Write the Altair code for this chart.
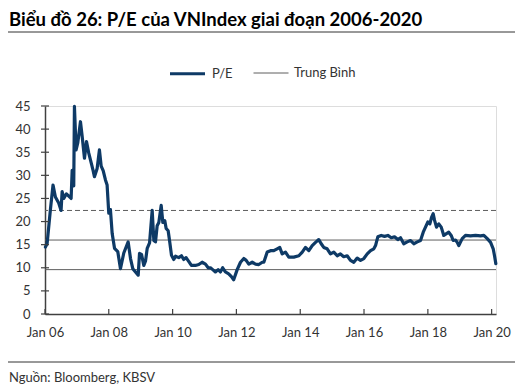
import altair as alt
import pandas as pd

dates = [
    "2006-01-06", "2006-01-25", "2006-03-03", "2006-04-03", "2006-04-30", "2006-06-07", "2006-07-04",
    "2006-07-16", "2006-08-04", "2006-09-03", "2006-09-30", "2006-10-27", "2006-11-08", "2006-11-26",
    "2006-12-04", "2006-12-23", "2007-01-11", "2007-02-11", "2007-03-02", "2007-03-29", "2007-04-21",
    "2007-05-17", "2007-06-14", "2007-07-06", "2007-07-21", "2007-08-21", "2007-09-16", "2007-10-06",
    "2007-10-29", "2007-11-24", "2007-12-13", "2008-01-01", "2008-01-20", "2008-02-09", "2008-03-07",
    "2008-04-13", "2008-05-14", "2008-06-21", "2008-08-10", "2008-09-06", "2008-10-02", "2008-11-02",
    "2008-12-03", "2008-12-18", "2009-01-10", "2009-02-05", "2009-02-25", "2009-03-16", "2009-04-12",
    "2009-05-12", "2009-05-31", "2009-06-19", "2009-07-08", "2009-07-27", "2009-08-23", "2009-09-11",
    "2009-10-03", "2009-10-19", "2009-11-11", "2009-11-26", "2009-12-19", "2010-01-14", "2010-02-03",
    "2010-03-12", "2010-04-12", "2010-05-08", "2010-06-04", "2010-07-04", "2010-08-04", "2010-09-19",
    "2010-10-27", "2010-12-05", "2011-01-12", "2011-02-12", "2011-03-10", "2011-04-05", "2011-05-06",
    "2011-06-06", "2011-07-02", "2011-07-28", "2011-08-28", "2011-10-05", "2011-11-05", "2011-12-01",
    "2012-01-10", "2012-02-17", "2012-03-26", "2012-04-22", "2012-05-22", "2012-06-30", "2012-08-07",
    "2012-09-14", "2012-10-23", "2012-11-10", "2012-12-19", "2013-01-26", "2013-03-04", "2013-04-12",
    "2013-05-12", "2013-06-08", "2013-07-16", "2013-08-23", "2013-10-19", "2013-12-16", "2014-01-24",
    "2014-03-02", "2014-04-09", "2014-05-18", "2014-06-25", "2014-08-01", "2014-08-29", "2014-09-27",
    "2014-11-05", "2014-12-13", "2015-01-20", "2015-02-28", "2015-04-06", "2015-05-14", "2015-06-22",
    "2015-07-30", "2015-09-06", "2015-10-15", "2015-11-22", "2015-12-30", "2016-02-07", "2016-03-16",
    "2016-04-22", "2016-05-12", "2016-06-07", "2016-07-16", "2016-08-23", "2016-09-30", "2016-11-08",
    "2016-12-15", "2017-01-22", "2017-02-22", "2017-03-31", "2017-05-10", "2017-06-17", "2017-07-24",
    "2017-09-02", "2017-10-09", "2017-11-09", "2017-12-05", "2018-01-01", "2018-01-24", "2018-02-12",
    "2018-03-03", "2018-03-18", "2018-04-10", "2018-05-06", "2018-06-03", "2018-07-02", "2018-08-02",
    "2018-08-28", "2018-09-25", "2018-10-18", "2018-11-13", "2018-12-03", "2018-12-21", "2019-01-29",
    "2019-03-08", "2019-05-04", "2019-07-01", "2019-08-27", "2019-10-04", "2019-11-12", "2019-12-20",
    "2020-01-19", "2020-02-03", "2020-02-18",
]
pe_values = [
    14.5, 15.2, 22.4, 27.9, 25.3, 24.0, 22.4,
    26.5, 25.0, 26.0, 25.5, 25.0, 31.1, 27.7,
    44.9, 35.5, 37.0, 41.6, 38.5, 33.7, 37.3,
    34.8, 32.7, 31.0, 29.7, 31.5, 35.5, 32.0,
    31.0, 29.0, 27.9, 21.8, 22.6, 17.4, 14.2,
    13.5, 9.8, 13.2, 15.6, 12.0, 9.8, 9.1,
    8.4, 13.1, 12.9, 10.5, 11.5, 14.2, 15.4,
    22.4, 15.9, 15.6, 19.1, 19.8, 23.5, 19.8,
    20.2, 18.5, 18.0, 16.0, 12.7, 11.8, 12.5,
    12.2, 12.6, 11.8, 12.2, 11.4, 10.5, 10.5,
    10.7, 11.2, 10.8, 10.0, 10.0, 9.6, 9.1,
    9.6, 9.1, 10.0, 9.1, 8.7, 8.1, 7.4,
    9.6, 11.2, 12.0, 11.6, 10.8, 11.2, 10.8,
    10.7, 11.2, 11.2, 13.4, 13.7, 13.7, 14.1,
    14.4, 13.0, 13.4, 12.3, 12.3, 12.6, 13.4,
    14.4, 13.7, 14.8, 15.5, 16.1, 15.2, 14.4,
    14.1, 13.0, 13.4, 12.6, 13.0, 12.4, 12.6,
    11.6, 11.2, 12.1, 11.6, 12.0, 13.0, 13.7,
    14.1, 14.8, 16.7, 17.0, 16.8, 17.0, 16.5,
    16.7, 16.1, 16.5, 15.2, 15.6, 15.9, 15.2,
    15.6, 15.9, 17.7, 18.8, 19.9, 19.5, 20.9,
    21.7, 20.3, 18.8, 19.5, 18.8, 17.0, 17.4,
    17.7, 17.0, 15.9, 16.0, 15.5, 14.8, 16.3,
    17.0, 16.9, 17.0, 16.9, 17.0, 16.3, 15.5,
    14.1, 12.6, 10.9,
]

band_levels = [22.4, 16.0, 9.6]
band_kinds = ["dash", "solid", "solid"]

series_names = ["P/E", "Trung Bình"]
series_colors = ["#0e3a66", "#5e5e5e"]
series_widths = [3.2, 1]

y_ticks = [0, 5, 10, 15, 20, 25, 30, 35, 40, 45]
x_tick_dates = ["2006-01-01", "2008-01-01", "2010-01-01", "2012-01-01",
                "2014-01-01", "2016-01-01", "2018-01-01", "2020-01-01"]
x_domain = ["2006-01-01", "2020-02-20"]

title_text = "Biểu đồ 26: P/E của VNIndex giai đoạn 2006-2020"
source_text = "Nguồn: Bloomberg, KBSV"

FONT = "Lato"
W, H = 451, 208

pe_df = pd.DataFrame({"date": dates, "pe": pe_values, "series": "P/E"})
band_df = pd.DataFrame({"level": band_levels, "kind": band_kinds, "series": "Trung Bình"})
ytick_df = pd.DataFrame({"v": y_ticks})
xtick_df = pd.DataFrame({"d": x_tick_dates})

xscale = alt.Scale(type="utc", domain=x_domain)
yscale = alt.Scale(domain=[0, 45], nice=False)

legend = alt.Legend(
    title=None, orient="none", direction="horizontal", legendX=123, legendY=-52,
    symbolType="stroke", symbolSize=1225, labelOffset=5, columnPadding=18,
    labelFont=FONT, labelFontSize=13, labelColor="#333333", padding=0,
)
color_enc = alt.Color("series:N", scale=alt.Scale(domain=series_names, range=series_colors), legend=legend)
width_enc = alt.StrokeWidth("series:N", scale=alt.Scale(domain=series_names, range=series_widths), legend=legend)

x_axis = alt.Axis(
    values=[alt.DateTime(year=int(d[:4]), month=1, date=1, utc=True) for d in x_tick_dates],
    format="%b %y", title=None, ticks=False, tickSize=0, labelPadding=12, grid=False,
    labelFlush=False, labelOverlap=False,
    labelFont=FONT, labelFontSize=13, labelColor="#333333",
    domainColor="#404040", domainWidth=1.5,
)
y_axis = alt.Axis(
    values=y_ticks, title=None, ticks=False, tickSize=0, labelPadding=15, grid=False,
    labelFont=FONT, labelFontSize=13, labelColor="#333333",
    domainColor="#404040", domainWidth=1.5,
)

bands = alt.Chart(band_df).mark_rule().encode(
    y=alt.Y("level:Q", scale=yscale, axis=y_axis),
    color=color_enc,
    strokeWidth=width_enc,
    strokeDash=alt.StrokeDash("kind:N", scale=alt.Scale(domain=["dash", "solid"], range=[[5, 3], [1, 0]]), legend=None),
)

line = alt.Chart(pe_df).mark_line(strokeJoin="round", strokeCap="round").encode(
    x=alt.X("date:T", scale=xscale, axis=x_axis),
    y=alt.Y("pe:Q", scale=yscale, axis=y_axis),
    color=color_enc,
    strokeWidth=width_enc,
)

yticks = alt.Chart(ytick_df).mark_rule(color="#404040", strokeWidth=1.2).encode(
    y=alt.Y("v:Q", scale=yscale, axis=y_axis),
    x=alt.value(-4), x2=alt.value(4),
)
xticks = alt.Chart(xtick_df).mark_rule(color="#404040", strokeWidth=1.2).encode(
    x=alt.X("d:T", scale=xscale, axis=x_axis),
    y=alt.value(H - 5), y2=alt.value(H),
)

deco = pd.DataFrame({"t": [source_text]})
top_rule = alt.Chart(deco).mark_rule(color="#333333", strokeWidth=1).encode(
    x=alt.value(-37), x2=alt.value(471), y=alt.value(-74))
bottom_rule = alt.Chart(deco).mark_rule(color="#333333", strokeWidth=1).encode(
    x=alt.value(-37), x2=alt.value(471), y=alt.value(256))
source = alt.Chart(deco).mark_text(align="left", baseline="alphabetic", font=FONT, fontSize=13, color="#333333").encode(
    text="t:N", x=alt.value(-36), y=alt.value(276))

chart = alt.layer(bands, line, yticks, xticks, top_rule, bottom_rule, source).resolve_scale(
    strokeDash="independent"
).properties(
    width=W, height=H,
    autosize=alt.AutoSizeParams(type="none"),
    padding={"left": 37, "top": 98, "right": 19, "bottom": 75},
    title=alt.TitleParams(title_text, anchor="start", frame="group", font=FONT, fontSize=18.5,
                          fontWeight="bold", color="#000000", dx=-36, offset=2),
).configure_view(stroke=None).configure(background="white")

chart.save("out.html", embed_options={"renderer": "svg", "actions": False})
